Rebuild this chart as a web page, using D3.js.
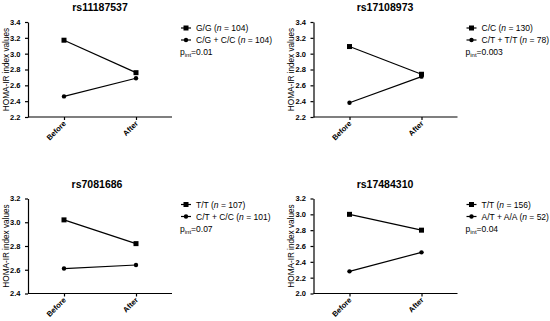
<!DOCTYPE html>
<html><head><meta charset="utf-8">
<script src="https://cdn.jsdelivr.net/npm/d3@7"></script>
<style>body{margin:0;background:#fff}svg{display:block}text{font-family:"Liberation Sans",Arial,sans-serif;fill:#000}</style>
</head><body><svg id="c" width="550" height="321"></svg>
<script>
const timepoints = ["Before", "After"];
const titles = ["rs11187537", "rs17108973", "rs7081686", "rs17484310"];
const groupA = ["G/G", "C/C", "T/T", "T/T"];
const groupB = ["C/G + C/C", "C/T + T/T", "C/T + C/C", "A/T + A/A"];
const nA = [104, 130, 107, 156];
const nB = [104, 78, 101, 52];
const pint = ["0.01", "0.003", "0.07", "0.04"];
const valuesA = [[3.17, 2.76], [3.09, 2.74], [3.02, 2.82], [3.00, 2.80]];
const valuesB = [[2.46, 2.69], [2.38, 2.71], [2.61, 2.64], [2.28, 2.52]];
const yDomains = [[2.2, 3.4], [2.2, 3.4], [2.4, 3.2], [2.0, 3.2]];
const yTicks = [[2.2,2.4,2.6,2.8,3.0,3.2,3.4],[2.2,2.4,2.6,2.8,3.0,3.2,3.4],[2.4,2.6,2.8,3.0,3.2],[2.0,2.2,2.4,2.6,2.8,3.0,3.2]];

const svg = d3.select("#c");
const layout = [
  {x0: 28, y0: 22, y1: 117, tx: 100, ty: 11},
  {x0: 313.5, y0: 22, y1: 117, tx: 385, ty: 11},
  {x0: 28, y0: 198.5, y1: 293.5, tx: 97, ty: 188},
  {x0: 313.5, y0: 198.5, y1: 293.5, tx: 385, ty: 188}
];
const W = 144;

layout.forEach((L, i) => {
  const g = svg.append("g");
  const x = d3.scalePoint().domain(timepoints).range([L.x0, L.x0 + W]).padding(0.5);
  const y = d3.scaleLinear().domain(yDomains[i]).range([L.y1, L.y0]);

  g.append("text").attr("x", L.tx).attr("y", L.ty).attr("text-anchor", "middle")
    .attr("font-size", 10.5).attr("font-weight", "bold").text(titles[i]);

  const ya = g.append("g").attr("transform", `translate(${L.x0},0)`)
    .call(d3.axisLeft(y).tickValues(yTicks[i]).tickFormat(d3.format(".1f")).tickSize(3).tickSizeOuter(0));
  ya.select(".domain").attr("stroke-width", 1.2);
  ya.selectAll(".tick line").attr("stroke-width", 1.2);
  ya.selectAll("text").attr("font-size", 7.5).attr("font-weight", "bold")
    .attr("font-family", "Liberation Sans, Arial, sans-serif").attr("dx", -1.5);

  const xa = g.append("g").attr("transform", `translate(0,${L.y1})`)
    .call(d3.axisBottom(x).tickSize(3).tickSizeOuter(0));
  xa.select(".domain").attr("stroke-width", 1.2).attr("d", `M${L.x0},0H${L.x0 + W}`);
  xa.selectAll(".tick line").attr("stroke-width", 1.2);
  xa.selectAll("text").attr("font-size", 7.5).attr("font-weight", "bold")
    .attr("font-family", "Liberation Sans, Arial, sans-serif")
    .attr("text-anchor", "end").attr("y", 0).attr("dy", 0)
    .attr("transform", "translate(2,7) rotate(-45)");

  g.append("text").attr("transform", `translate(${L.x0 - 19.5},${(L.y0 + L.y1) / 2}) rotate(-90)`)
    .attr("text-anchor", "middle").attr("font-size", 8.2).text("HOMA-IR index values");

  const line = d3.line().x((d, j) => x(timepoints[j])).y(d => y(d));
  [valuesA[i], valuesB[i]].forEach((vals, k) => {
    g.append("path").attr("d", line(vals)).attr("fill", "none").attr("stroke", "#000").attr("stroke-width", 1.2);
    vals.forEach((v, j) => {
      if (k === 0) g.append("rect").attr("x", x(timepoints[j]) - 2.5).attr("y", y(v) - 2.5).attr("width", 5).attr("height", 5);
      else g.append("circle").attr("cx", x(timepoints[j])).attr("cy", y(v)).attr("r", 2.2);
    });
  });

  const lx = L.x0 + W + 9, ly = L.y0 + 6;
  const entries = [[groupA[i], nA[i], 0], [groupB[i], nB[i], 1]];
  entries.forEach(([lab, n, k], r) => {
    const yy = ly + r * 12;
    g.append("line").attr("x1", lx).attr("x2", lx + 10).attr("y1", yy).attr("y2", yy).attr("stroke", "#000").attr("stroke-width", 1.2);
    if (k === 0) g.append("rect").attr("x", lx + 2.5).attr("y", yy - 2.5).attr("width", 5).attr("height", 5);
    else g.append("circle").attr("cx", lx + 5).attr("cy", yy).attr("r", 2.2);
    const t = g.append("text").attr("x", lx + 15).attr("y", yy + 3).attr("font-size", 8.5);
    t.append("tspan").text(lab + " (");
    t.append("tspan").attr("font-style", "italic").text("n");
    t.append("tspan").text(" = " + n + ")");
  });
  const pt = g.append("text").attr("x", lx - 1).attr("y", ly + 27).attr("font-size", 8.5);
  pt.append("tspan").text("p");
  pt.append("tspan").attr("font-size", 6).attr("dy", 2).text("int");
  pt.append("tspan").attr("dy", -2).text("=" + pint[i]);
});
</script></body></html>
